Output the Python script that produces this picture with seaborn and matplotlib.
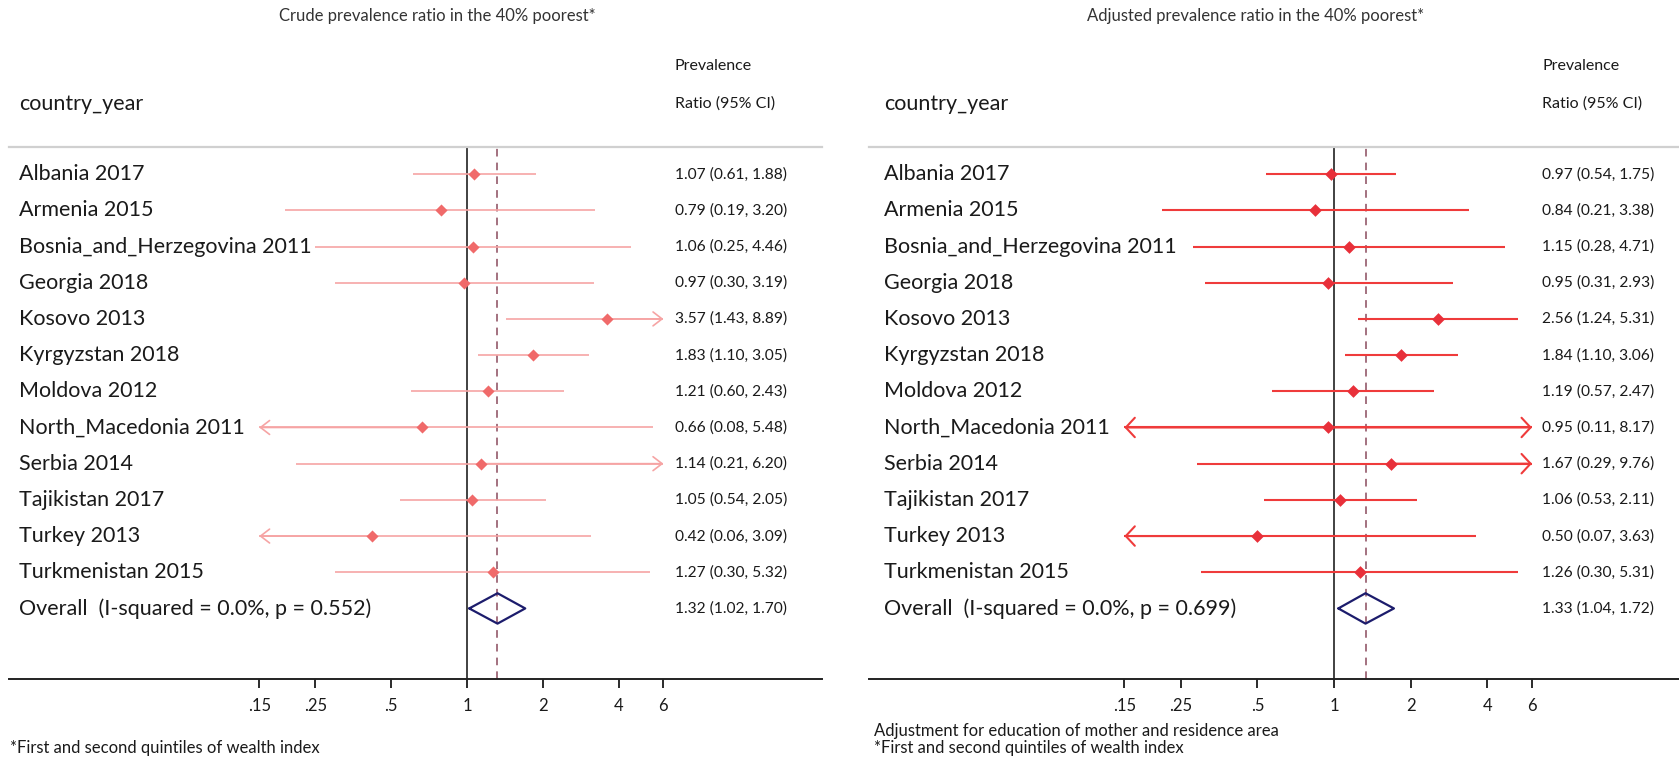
import matplotlib
matplotlib.use('AGG')

import matplotlib.pyplot as plt
import matplotlib.transforms as mtransforms
from matplotlib.ticker import FixedLocator, FixedFormatter, NullLocator
import seaborn as sns
import pandas as pd

countries = ['Albania 2017', 'Armenia 2015', 'Bosnia_and_Herzegovina 2011',
             'Georgia 2018', 'Kosovo 2013', 'Kyrgyzstan 2018', 'Moldova 2012',
             'North_Macedonia 2011', 'Serbia 2014', 'Tajikistan 2017',
             'Turkey 2013', 'Turkmenistan 2015']

crude_pr = [1.07, 0.79, 1.06, 0.97, 3.57, 1.83, 1.21, 0.66, 1.14, 1.05, 0.42, 1.27]
crude_lo = [0.61, 0.19, 0.25, 0.30, 1.43, 1.10, 0.60, 0.08, 0.21, 0.54, 0.06, 0.30]
crude_hi = [1.88, 3.20, 4.46, 3.19, 8.89, 3.05, 2.43, 5.48, 6.20, 2.05, 3.09, 5.32]
crude_overall = [1.32, 1.02, 1.70]
crude_p = '0.552'

adj_pr = [0.97, 0.84, 1.15, 0.95, 2.56, 1.84, 1.19, 0.95, 1.67, 1.06, 0.50, 1.26]
adj_lo = [0.54, 0.21, 0.28, 0.31, 1.24, 1.10, 0.57, 0.11, 0.29, 0.53, 0.07, 0.30]
adj_hi = [1.75, 3.38, 4.71, 2.93, 5.31, 3.06, 2.47, 8.17, 9.76, 2.11, 3.63, 5.31]
adj_overall = [1.33, 1.04, 1.72]
adj_p = '0.699'

tick_vals = [0.15, 0.25, 0.5, 1, 2, 4, 6]
tick_labels = ['.15', '.25', '.5', '1', '2', '4', '6']

sns.set_style('white')
plt.rcParams['font.family'] = ['Lato', 'DejaVu Sans']

W, H = 1679, 760
fig = plt.figure(figsize=(W / 100, H / 100), dpi=100)

TXT = '#1a1a1a'
NAVY = '#1c1c6c'
DASH = '#8a4a5c'


def forest(ax, pr, lo, hi, overall, pval, xlim, lab_x, stat_x,
           line_c, mark_c, lw, ms, head_w, title, title_x, notes, note_x):
    clip_lo, clip_hi = tick_vals[0], tick_vals[-1]
    df = pd.DataFrame({'country': countries, 'pr': pr, 'lo': lo, 'hi': hi,
                       'row': range(len(countries))})
    n = len(df)

    # confidence intervals, with arrows where they run past the axis range
    for _, r in df.iterrows():
        a = max(r['lo'], clip_lo)
        b = min(r['hi'], clip_hi)
        ax.plot([a, b], [r['row'], r['row']], color=line_c, lw=lw,
                solid_capstyle='butt', zorder=2)
        head = dict(arrowstyle=f'->,head_length=0.65,head_width={head_w}',
                    color=line_c, lw=lw, shrinkA=0, shrinkB=0)
        if r['hi'] > clip_hi:
            ax.annotate('', xy=(clip_hi, r['row']), xytext=(r['pr'], r['row']),
                        arrowprops=head, zorder=2)
        if r['lo'] < clip_lo:
            ax.annotate('', xy=(clip_lo, r['row']), xytext=(r['pr'], r['row']),
                        arrowprops=head, zorder=2)

    sns.scatterplot(data=df, x='pr', y='row', marker='D', s=ms, color=mark_c,
                    edgecolor=mark_c, linewidth=0, ax=ax, zorder=3)

    # pooled estimate diamond
    est, olo, ohi = overall
    ax.plot([olo, est, ohi, est, olo], [n, n - 0.42, n, n + 0.42, n],
            color=NAVY, lw=1.6, zorder=3)

    ax.axvline(1, color='#333333', lw=1.3, zorder=1)
    ax.axvline(est, color=DASH, lw=1.1, ls=(0, (5, 4)), zorder=1)

    ax.set_xscale('log')
    ax.set_xlim(*xlim)
    ax.set_ylim(n + 1.95, -0.75)
    ax.xaxis.set_major_locator(FixedLocator(tick_vals))
    ax.xaxis.set_major_formatter(FixedFormatter(tick_labels))
    ax.xaxis.set_minor_locator(NullLocator())
    ax.set_yticks([])
    ax.set_xlabel('')
    ax.set_ylabel('')
    ax.tick_params(axis='x', direction='out', length=6.5, width=1.3,
                   pad=7, labelsize=12, colors=TXT, bottom=True)
    for s in ['left', 'right']:
        ax.spines[s].set_visible(False)
    ax.spines['bottom'].set_color('#222222')
    ax.spines['bottom'].set_linewidth(1.4)
    ax.spines['top'].set_color('#d0d0d0')
    ax.spines['top'].set_linewidth(1.6)

    tr = mtransforms.blended_transform_factory(ax.transAxes, ax.transData)
    for _, r in df.iterrows():
        ax.text(lab_x, r['row'], r['country'], transform=tr, ha='left',
                va='center', fontsize=15.5, color=TXT)
        ax.text(stat_x, r['row'], f"{r['pr']:.2f} ({r['lo']:.2f}, {r['hi']:.2f})",
                transform=tr, ha='left', va='center', fontsize=11.2, color=TXT)
    ax.text(lab_x, n, f'Overall  (I-squared = 0.0%, p = {pval})', transform=tr,
            ha='left', va='center', fontsize=15.5, color=TXT)
    ax.text(stat_x, n, f'{est:.2f} ({olo:.2f}, {ohi:.2f})', transform=tr,
            ha='left', va='center', fontsize=11.2, color=TXT)

    # column headers above the panel
    ax.text(lab_x, 1 + 43 / 532, 'country_year', transform=ax.transAxes,
            ha='left', va='center', fontsize=15.5, color=TXT)
    ax.text(stat_x, 1 + 81 / 532, 'Prevalence', transform=ax.transAxes,
            ha='left', va='center', fontsize=11.5, color=TXT)
    ax.text(stat_x, 1 + 43 / 532, 'Ratio (95% CI)', transform=ax.transAxes,
            ha='left', va='center', fontsize=11.5, color=TXT)

    fig.text(title_x / W, 1 - 16 / H, title, ha='center', va='center',
             fontsize=12, color='#333333')
    for i, note in enumerate(notes):
        fig.text(note_x / W, 1 - (748 - 17 * (len(notes) - 1 - i)) / H, note,
                 ha='left', va='center', fontsize=12, color=TXT)


# panel geometry in pixels: left 9..822, right 869..1679, rows band 147..679
top, bottom = 147, 679
ax1 = fig.add_axes([9 / W, 1 - bottom / H, 813 / W, (bottom - top) / H])
ax2 = fig.add_axes([869 / W, 1 - bottom / H, 810 / W, (bottom - top) / H])

forest(ax1, crude_pr, crude_lo, crude_hi, crude_overall, crude_p,
       (0.0153, 25.5), 10 / 813, 666 / 813,
       '#f6a4a4', '#f06a6a', 1.2, 38, 0.5,
       'Crude prevalence ratio in the 40% poorest*', 437,
       ['*First and second quintiles of wealth index'], 10)

forest(ax2, adj_pr, adj_lo, adj_hi, adj_overall, adj_p,
       (0.01487, 22.7), 15 / 810, 673 / 810,
       '#ef3b3b', '#e8303a', 1.5, 42, 0.7,
       'Adjusted prevalence ratio in the 40% poorest*', 1256,
       ['Adjustment for education of mother and residence area',
        '*First and second quintiles of wealth index'], 874)

fig.savefig('out.png', dpi=100)
